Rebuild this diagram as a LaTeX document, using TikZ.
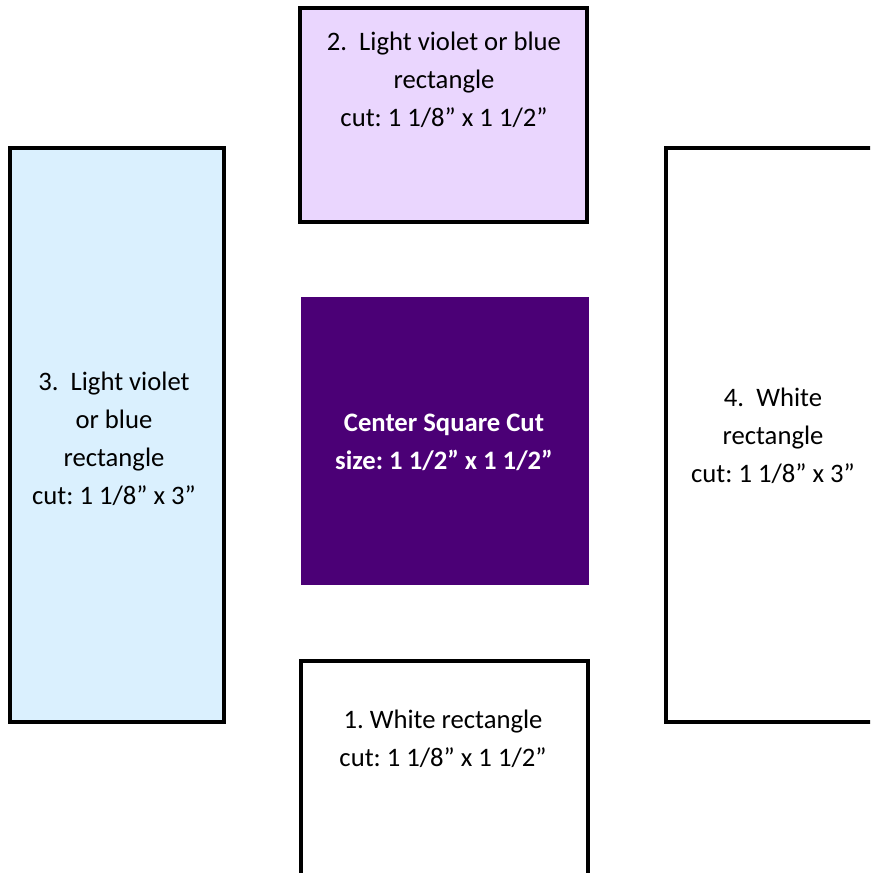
\documentclass[tikz,border=0pt]{standalone}
\usepackage{fontspec}
\setmainfont{Carlito}
\frenchspacing
\definecolor{violetlight}{HTML}{EAD6FE}
\definecolor{bluelight}{HTML}{DAF0FE}
\definecolor{centerpurple}{HTML}{4B0076}
\begin{document}
\begin{tikzpicture}[x=0.75pt, y=-0.75pt,
		piece/.style = {draw = black, line width = 2.5pt},
		lbl/.style = {align = center, inner sep = 0pt, font = \fontsize{20}{28.5}\selectfont}]
		\useasboundingbox (0,0) rectangle (870,873);
		\clip (0,0) rectangle (870,873);
		% the five pieces
		\draw [piece, fill = violetlight] (300,8) rectangle (587,222);
		\draw [piece, fill = bluelight] (10,148) rectangle (224,722);
		\draw [piece, fill = white] (666,148) rectangle (900,722);
		\draw [piece, fill = white] (301,661) rectangle (588,900);
		\fill [centerpurple] (301,297) rectangle (589,585);
		% labels
		\node [lbl](top) at (444, 80) {2.\ \ Light violet or blue\\rectangle\\cut: 1 1/8” x 1 1/2”};
		\node [lbl](left) at (114, 439) {3.\ \ Light violet\\or blue\\rectangle\\cut: 1 1/8” x 3”};
		\node [lbl](right) at (773, 436) {4.\ \ White\\rectangle\\cut: 1 1/8” x 3”};
		\node [lbl, text = white, font = \fontsize{20}{28.5}\selectfont\bfseries](center) at (444, 442) {Center Square Cut\\size: 1 1/2” x 1 1/2”};
		\node [lbl](bottom) at (443, 739) {1. White rectangle\\cut: 1 1/8” x 1 1/2”};
		\end{tikzpicture}
\end{document}
